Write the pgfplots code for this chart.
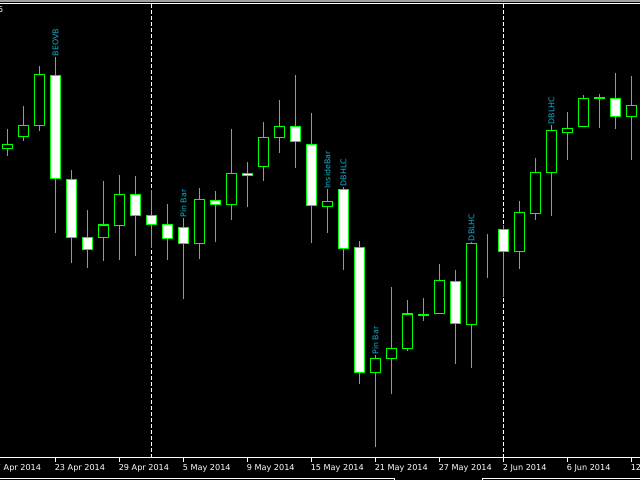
\documentclass[border=0pt]{standalone}
\usepackage{pgfplots}
\pgfplotsset{compat=1.18}
\usepackage{pgfplotstable}
\usepackage{fontspec}
\setmainfont{DejaVu Sans}
\definecolor{cgreen}{RGB}{0,255,0}
\definecolor{lblcyan}{RGB}{20,180,210}
\definecolor{topgray}{RGB}{160,160,160}

\pgfplotstableread{
k o h l c
0 331.3 351 324 335.7
1 343.3 374 339.3 354.7
2 354.3 414 349.3 405.7
3 404.7 423 247.3 301.3
4 300.7 310 217.3 242.3
5 242.7 270 212.3 230.3
6 242.3 299 219.3 255
7 254.3 305 220 285.7
8 285.7 304 224.3 264.3
9 264.7 290 232.3 255.3
10 255.7 276 220 241.3
11 252.7 262 181.3 236.3
12 236.3 292 221.3 280.7
13 279.7 289 238.3 275.7
14 275.3 351 260.3 306.7
15 306.7 318 273.3 304.3
16 313.3 358 299.3 342.7
17 342.3 380 327.3 353.7
18 353.7 405 312.3 338.3
19 335.7 367 237.3 274.3
20 273.3 291 247.3 278.7
21 290.7 293 210.3 231.3
22 232.7 239 96.3 107.3
23 107.3 125 33.3 121.7
24 121.3 193 86.3 131.7
25 131.3 180 129.3 166
26 164.5 182 159.3 165.5
27 166.3 216 166.3 199.7
28 198.7 210 116.3 156.3
29 155.3 238.3 112.3 236.7
30 237.7 246 202.3 237.7
31 250.7 255 183.3 228.3
32 228.3 279 211.3 267.7
33 266.3 322 260.3 307.7
34 307.3 355 264.3 349.7
35 347.7 368 320.3 351.7
36 353.3 385 353.3 381.7
37 381.3 386 352.3 382.7
38 381.7 407 351.3 363.3
39 363.3 404 320.3 374.7
}\candles

\begin{document}
\begin{tikzpicture}
\path[use as bounding box, clip] (0,0) rectangle (480pt,360pt);
\fill[black] (0,0) rectangle (480pt,360pt);
\fill[topgray] (0,358.7pt) rectangle (480pt,360pt);
\begin{axis}[
  at={(0pt,16.875pt)}, anchor=south west, scale only axis,
  width=480pt, height=340.5pt,
  xmin=-0.46875, xmax=39.53125, ymin=22.5, ymax=476.5,
  axis x line=box, axis y line=none,
  axis line style={white, line width=0.75pt},
  clip mode=individual,
  xtick={3,7,11,15,19,23,27,31,35,39},
  xticklabels={23 Apr 2014, 29 Apr 2014, 5 May 2014, 9 May 2014, 15 May 2014, 21 May 2014, 27 May 2014, 2 Jun 2014, 6 Jun 2014, 12 Jun 2014},
  ytick=\empty,
  xtick pos=left,
  tick align=outside, major tick length=3pt,
  tick style={white, line width=0.75pt},
  xticklabel style={anchor=north west, inner sep=0pt, text=white, font=\fontsize{6.1}{7}\selectfont, xshift=-0.75pt, yshift=-2.1pt},
]
\draw[white, line width=0.75pt, dash pattern=on 3pt off 1.5pt] (axis cs:9,22.5) -- (axis cs:9,476.5);
\draw[white, line width=0.75pt, dash pattern=on 3pt off 1.5pt] (axis cs:31,22.5) -- (axis cs:31,476.5);
\addplot[draw=none, mark=none, error bars/.cd, y dir=plus, y explicit, error mark=none,
  error bar style={draw=cgreen, line width=0.75pt}]
  table[x=k, y=l, y error expr=\thisrow{h}-\thisrow{l}] {\candles};
\node[anchor=north west, inner sep=0pt, text=white, font=\fontsize{6.1}{7}\selectfont, xshift=-0.75pt, yshift=-5.1pt] at (axis cs:-1,22.5) {17 Apr 2014};
\begin{scope}[every node/.style={rotate=90, anchor=west, inner sep=0.3pt, text=lblcyan, font=\fontsize{5.9}{7}\selectfont}]
\node at (axis cs:3,423) {BEOVB};
\node at (axis cs:11,262) {Pin Bar};
\node at (axis cs:20,291) {InsideBar};
\node at (axis cs:21,293) {DBHLC};
\node at (axis cs:23,125) {Pin Bar};
\node at (axis cs:29,238.3) {DBLHC};
\node at (axis cs:34,355) {DBLHC};
\end{scope}
\end{axis}
\begin{axis}[
  at={(0pt,16.875pt)}, anchor=south west, scale only axis,
  width=480pt, height=340.5pt,
  xmin=-0.46875, xmax=39.53125, ymin=22.5, ymax=476.5,
  hide axis, ybar stacked, bar width=0.625,
]
\addplot[draw=none, fill=none] table[x=k, y expr={min(\thisrow{o},\thisrow{c})}] {\candles};
\addplot[draw=cgreen, fill=black, line width=0.8pt] table[x=k, y expr={max(\thisrow{c}-\thisrow{o},0)}] {\candles};
\addplot[draw=cgreen, fill=white, line width=0.8pt] table[x=k, y expr={max(\thisrow{o}-\thisrow{c},0)}] {\candles};
\end{axis}
\draw[white, line width=0.75pt] (-1pt,1.5pt) -- (295.5pt,1.5pt) -- (295.5pt,-1pt);
\draw[white, line width=0.75pt] (361.5pt,-1pt) -- (361.5pt,1.5pt) -- (481pt,1.5pt);
\node[anchor=north east, inner sep=0pt, text=white, font=\fontsize{6.1}{7}\selectfont] at (2.6pt,355pt) {5};
\end{tikzpicture}
\end{document}
